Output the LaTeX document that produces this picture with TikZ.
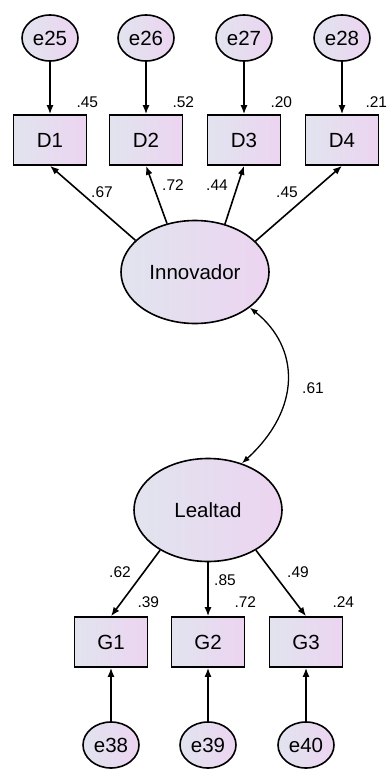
\documentclass[tikz,border=0pt]{standalone}
\usepackage{fontspec}
\setmainfont{Liberation Sans}
\usetikzlibrary{shapes.geometric, arrows.meta, positioning, calc}
\definecolor{fillL}{RGB}{225,228,239}
\definecolor{fillR}{RGB}{236,212,240}

\tikzset{
    shaded/.style={draw, line width=1.6pt, left color=fillL, right color=fillR, inner sep=0pt},
    err/.style={shaded, ellipse, minimum width=56pt, minimum height=46pt, font=\fontsize{20.5}{21}\selectfont},
    obs/.style={shaded, rectangle, minimum width=73pt, minimum height=50pt, font=\fontsize{20.5}{21}\selectfont},
    lat/.style={shaded, ellipse, minimum width=148pt, minimum height=103pt, font=\fontsize{20.5}{21}\selectfont},
    coef/.style={font=\fontsize{15.5}{16}\selectfont, inner sep=0pt},
    load/.style={line width=1.6pt, -{Latex[length=9pt, width=7pt]}},
    cov/.style={line width=1.3pt, {Latex[length=8pt, width=6pt]}-{Latex[length=8pt, width=6pt]}}
}

\begin{document}
\begin{tikzpicture}[x=1pt, y=-1pt]

    \useasboundingbox (0,0) rectangle (387,771);

    % Innovador block
    \foreach \n/\i/\x in {25/1/50, 26/2/146, 27/3/244, 28/4/342} {
        \node[err] (e\n) at (\x,38) {e\n};
        \node[obs] (D\i) at (\x,140) {D\i};
        \draw[load] (e\n) -- (D\i);
    }
    \foreach \i/\r in {1/.45, 2/.52, 3/.20}
        \node[coef] (r\i) at ([yshift=12pt]D\i.north east) {\r};
    \node[coef, anchor=east] (r4) at ([yshift=12pt, xshift=8pt]D4.north east) {.21};

    \node[lat] (Inn) at (195,272) {Innovador};
    \foreach \i/\a in {1/152, 2/120, 3/58, 4/27}
        \draw[load] (Inn.\a) -- (D\i.south);

    \node[coef] (l1) at (102,192) {.67};
    \node[coef] (l2) at (173,185) {.72};
    \node[coef] (l3) at (217,185) {.44};
    \node[coef] (l4) at (287,192) {.45};

    % Lealtad block
    \node[lat] (Lea) at (208,510) {Lealtad};

    \draw[cov] (Inn.-33) .. controls +(50,40) and +(60,-55) .. (Lea.54);
    \node[coef] (c1) at (313,388) {.61};

    \foreach \n/\i/\x in {38/1/111, 39/2/208, 40/3/306} {
        \node[obs] (G\i) at (\x,642) {G\i};
        \node[err] (e\n) at (\x,745) {e\n};
        \draw[load] (e\n) -- (G\i);
    }
    \foreach \i/\a in {1/220, 2/270, 3/320}
        \draw[load] (Lea.\a) -- (G\i.north);
    \foreach \i/\r in {1/.39, 2/.72, 3/.24}
        \node[coef] (s\i) at ([yshift=14pt]G\i.north east) {\r};

    \node[coef] (m1) at (120,572) {.62};
    \node[coef] (m2) at (225,580) {.85};
    \node[coef] (m3) at (298,572) {.49};

\end{tikzpicture}
\end{document}
